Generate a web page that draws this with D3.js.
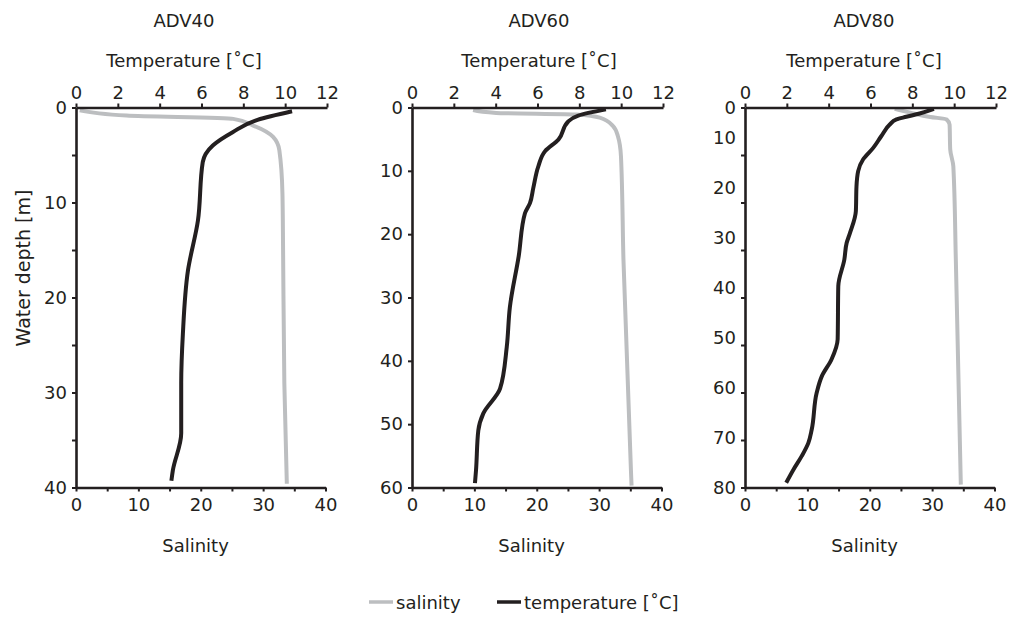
<!DOCTYPE html>
<html>
<head>
<meta charset="utf-8">
<script src="https://cdn.jsdelivr.net/npm/d3@7"></script>
<style>
  html, body { margin: 0; padding: 0; background: #fff; }
  svg { display: block; font-family: "DejaVu Sans", sans-serif; }
  .axis path, .axis line { stroke: #231f20; }
  .axis text { fill: #231f20; font-family: "DejaVu Sans", sans-serif; font-size: 18px; }
  .lbl { fill: #231f20; font-size: 18px; }
</style>
</head>
<body>
<script>
// ---- CTD profiles: depth [m], temperature [°C], salinity ----
const stations = ["ADV40", "ADV60", "ADV80"];
const maxDepths = [40, 60, 80];

const adv40TempDepth = [0.4, 1.3, 2.6, 4.0, 5.75, 11.9, 17.2, 23.8, 29, 34.3, 38.2, 39.3];
const adv40Temp      = [10.33, 8.68, 7.49, 6.54, 6.06, 5.83, 5.35, 5.11, 5.03, 5.03, 4.63, 4.56];
const adv40SalDepth  = [0.3, 0.84, 1.2, 1.9, 3.1, 4.5, 9.1, 15, 29, 39.6];
const adv40Sal       = [0.6, 8.1, 25.2, 28.4, 31.6, 32.6, 33.1, 33.2, 33.4, 33.8];

const adv60TempDepth = [0.3, 1.27, 2.2, 5.07, 6.9, 9.3, 12.7, 15.1, 16.7, 23.5, 31.5, 37.8, 44.4, 48.3, 51, 57.3, 59.3];
const adv60Temp      = [9.27, 7.95, 7.47, 7.0, 6.36, 6.04, 5.8, 5.64, 5.4, 5.1, 4.68, 4.53, 4.21, 3.41, 3.17, 3.06, 3.01];
const adv60SalDepth  = [0.4, 0.85, 1.1, 1.6, 2.9, 4.5, 7.7, 24, 57.3, 59.7];
const adv60Sal       = [9.8, 13.5, 26.4, 30.1, 32.2, 33.0, 33.5, 33.9, 35.1, 35.2];

const adv80TempDepth = [0.28, 1.26, 1.96, 2.5, 3.6, 6.0, 8.5, 10.9, 13.4, 16.6, 21.8, 26.4, 28.5, 32, 37.6, 48.8, 53, 56.6, 60, 67.8, 70.6, 73.4, 76.2, 79];
const adv80Temp      = [9.03, 8.35, 7.71, 7.24, 6.92, 6.52, 6.13, 5.65, 5.41, 5.33, 5.3, 5.02, 4.86, 4.75, 4.46, 4.43, 4.14, 3.67, 3.43, 3.19, 3.03, 2.71, 2.32, 1.97];
const adv80SalDepth  = [0.3, 1.1, 2.0, 2.5, 3.6, 8.8, 12.4, 32, 79.4];
const adv80Sal       = [24.0, 26.5, 29.7, 32.3, 32.8, 32.9, 33.4, 33.8, 34.6];

const tempTicks = [0, 2, 4, 6, 8, 10, 12];
const salTicks = [0, 5, 10, 15, 20, 25, 30, 35, 40];
const depthTicks40 = [0, 5, 10, 15, 20, 25, 30, 35, 40];
const depthTicks60 = [0, 10, 20, 30, 40, 50, 60];
const depthTicks80 = [0, 10, 20, 30, 40, 50, 60, 70, 80];

const legendLabels = ["salinity", "temperature [\u02DAC]"];

// ---- layout ----
const W = 1009, H = 617;
const panelLeft = [76, 412, 745];
const panelTitleX = [184, 539, 864];
const plotW = 251;
const plotTop = 107.5, plotBottom = 487.5;
const salColor = "#bcbec0", tempColor = "#231f20";

const profiles = [
  { td: adv40TempDepth, t: adv40Temp, sd: adv40SalDepth, s: adv40Sal, ticks: depthTicks40 },
  { td: adv60TempDepth, t: adv60Temp, sd: adv60SalDepth, s: adv60Sal, ticks: depthTicks60 },
  { td: adv80TempDepth, t: adv80Temp, sd: adv80SalDepth, s: adv80Sal, ticks: depthTicks80 }
];

const svg = d3.select("body").append("svg").attr("width", W).attr("height", H);

profiles.forEach((p, i) => {
  const x0 = panelLeft[i];
  const xT = d3.scaleLinear().domain([0, 12]).range([x0, x0 + plotW]);
  const xS = d3.scaleLinear().domain([0, 40]).range([x0, x0 + plotW - 1.5]);
  const y = d3.scaleLinear().domain([0, maxDepths[i]]).range([plotTop, plotBottom]);

  const g = svg.append("g");

  // profile lines
  const line = d3.line().curve(d3.curveMonotoneY);
  const salPts = p.sd.map((d, k) => [xS(p.s[k]), y(d)]);
  const tempPts = p.td.map((d, k) => [xT(p.t[k]), y(d)]);
  g.append("path").attr("d", line(salPts)).attr("fill", "none")
    .attr("stroke", salColor).attr("stroke-width", 4).attr("stroke-linejoin", "round");
  g.append("path").attr("d", line(tempPts)).attr("fill", "none")
    .attr("stroke", tempColor).attr("stroke-width", 4).attr("stroke-linejoin", "round");

  // axes
  const styleAxis = sel => {
    sel.attr("class", "axis");
    sel.select(".domain").attr("stroke-width", 2.6);
    sel.selectAll(".tick line").attr("stroke-width", 2);
  };

  g.append("g").attr("transform", `translate(0,${plotTop})`)
    .call(d3.axisTop(xT).tickValues(tempTicks).tickSize(4).tickSizeOuter(0).tickPadding(5))
    .call(styleAxis);

  g.append("g").attr("transform", `translate(0,${plotBottom})`)
    .call(d3.axisBottom(xS).tickValues(salTicks).tickSize(4).tickSizeOuter(0).tickPadding(7)
      .tickFormat(d => d % 10 === 0 ? d : ""))
    .call(styleAxis);

  const yAxis = g.append("g").attr("transform", `translate(${x0},0)`)
    .call(d3.axisLeft(y).tickValues(p.ticks).tickSize(4).tickSizeOuter(0).tickPadding(5)
      .tickFormat(d => d % 10 === 0 ? d : ""))
    .call(styleAxis);

  if (i === 2) {
    // depth labels of the deepest profile run on their own spacing
    const yLab = d3.scaleLinear().domain([10, 80]).range([y(10) - 17.5, y(80)]);
    yAxis.selectAll(".tick text").attr("y", d => d === 0 ? 0 : yLab(d) - y(d));
  }

  // titles
  g.append("text").attr("class", "lbl").attr("x", panelTitleX[i]).attr("y", 27)
    .attr("text-anchor", "middle").text(stations[i]);
  g.append("text").attr("class", "lbl").attr("x", panelTitleX[i]).attr("y", 67)
    .attr("text-anchor", "middle").text("Temperature [\u02DAC]");
  g.append("text").attr("class", "lbl").attr("x", x0 + plotW / 2 - 6).attr("y", 552)
    .attr("text-anchor", "middle").text("Salinity");
});

// shared depth label
svg.append("text").attr("class", "lbl")
  .attr("transform", "translate(30,268) rotate(-90)")
  .attr("text-anchor", "middle").style("font-size", "19px").text("Water depth [m]");

// legend
const legend = svg.append("g").attr("transform", "translate(369,602)");
const legendX = [0, 128];
[salColor, tempColor].forEach((c, k) => {
  legend.append("line").attr("x1", legendX[k]).attr("x2", legendX[k] + 24)
    .attr("y1", 0).attr("y2", 0).attr("stroke", c).attr("stroke-width", 3.5);
  legend.append("text").attr("class", "lbl").attr("x", legendX[k] + 27).attr("y", 7)
    .text(legendLabels[k]);
});
</script>
</body>
</html>
